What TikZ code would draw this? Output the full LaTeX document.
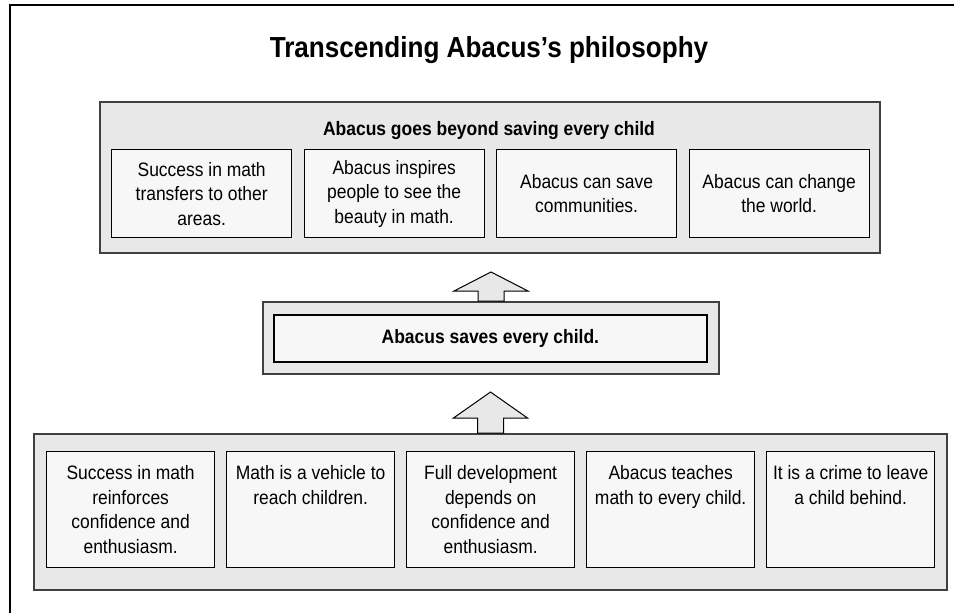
\documentclass[tikz,border=0pt]{standalone}
\usepackage{fontspec}
\setmainfont[FakeStretch=0.9]{Liberation Sans}
\definecolor{groupfill}{HTML}{E8E8E8}
\definecolor{boxfill}{HTML}{F7F7F7}
\definecolor{framegray}{HTML}{404040}
\newcommand\txtsize{\fontsize{19.4}{24.5}\selectfont}
\tikzset{
  outerbox/.style={draw=framegray, line width=2pt, fill=groupfill, inner sep=0pt, anchor=north west},
  innerbox/.style={draw=black, line width=1.3pt, fill=boxfill, inner sep=0pt, anchor=north west,
                   align=center, font=\txtsize, minimum width=180pt, minimum height=88pt},
  lowbox/.style={draw=black, line width=1.3pt, fill=boxfill, inner sep=0pt, anchor=north west, font=\txtsize},
  blockarrow/.style={draw=black, line width=1pt, fill=groupfill, line join=miter},
  heading/.style={font=\txtsize\bfseries, anchor=base, inner sep=0pt}
}
\newcommand\lowtext[1]{\parbox[c][116pt][t]{168pt}{\centering\rule{0pt}{28pt}#1}}
\begin{document}
\begin{tikzpicture}[x=1pt,y=-1pt]
\useasboundingbox (0,0) rectangle (954,613);
\begin{scope}
  \clip (0,0) rectangle (954,613);
  \draw[line width=2.5pt] (10,5) rectangle (980,640);
\end{scope}
\node[font=\fontsize{29}{34}\selectfont\bfseries, anchor=base, inner sep=0pt] (title) at (489,57.5) {Transcending Abacus’s philosophy};
% top group
\node[outerbox, minimum width=780pt, minimum height=151pt] (topouter) at (99,101) {};
\node[heading] (toptitle) at (489,135) {Abacus goes beyond saving every child};
\node[innerbox] (t1) at (111,149) {Success in math\\transfers to other\\areas.};
\node[innerbox] (t2) at (303.5,149) {Abacus inspires\\people to see the\\beauty in math.};
\node[innerbox] (t3) at (496,149) {Abacus can save\\communities.};
\node[innerbox] (t4) at (688.5,149) {Abacus can change\\the world.};
% middle
\node[outerbox, minimum width=456pt, minimum height=72pt] (midouter) at (262,301) {};
\node[draw=black, line width=1.8pt, fill=boxfill, anchor=north west, minimum width=433pt, minimum height=47pt,
      inner sep=0pt, font=\txtsize\bfseries] (midinner) at (273,314) {Abacus saves every child.};
% bottom group
\node[outerbox, minimum width=913pt, minimum height=156pt] (botouter) at (33,433) {};
\node[lowbox] (b1) at (46,451) {\lowtext{Success in math\\reinforces\\confidence and\\enthusiasm.}};
\node[lowbox] (b2) at (226,451) {\lowtext{Math is a vehicle to\\reach children.}};
\node[lowbox] (b3) at (406,451) {\lowtext{Full development\\depends on\\confidence and\\enthusiasm.}};
\node[lowbox] (b4) at (586,451) {\lowtext{Abacus teaches\\math to every child.}};
\node[lowbox] (b5) at (766,451) {\lowtext{It is a crime to leave\\a child behind.}};
% arrows
\draw[blockarrow] ([xshift=-13pt]midouter.north) -- ++(0,-10) -- ++(-24,0) -- ++(37,-19) -- ++(37,19) -- ++(-24,0) -- ++(0,10) -- cycle;
\draw[blockarrow] ([xshift=-13pt]botouter.north) -- ++(0,-15) -- ++(-24,0) -- ++(37,-26) -- ++(37,26) -- ++(-24,0) -- ++(0,15) -- cycle;
\end{tikzpicture}
\end{document}
